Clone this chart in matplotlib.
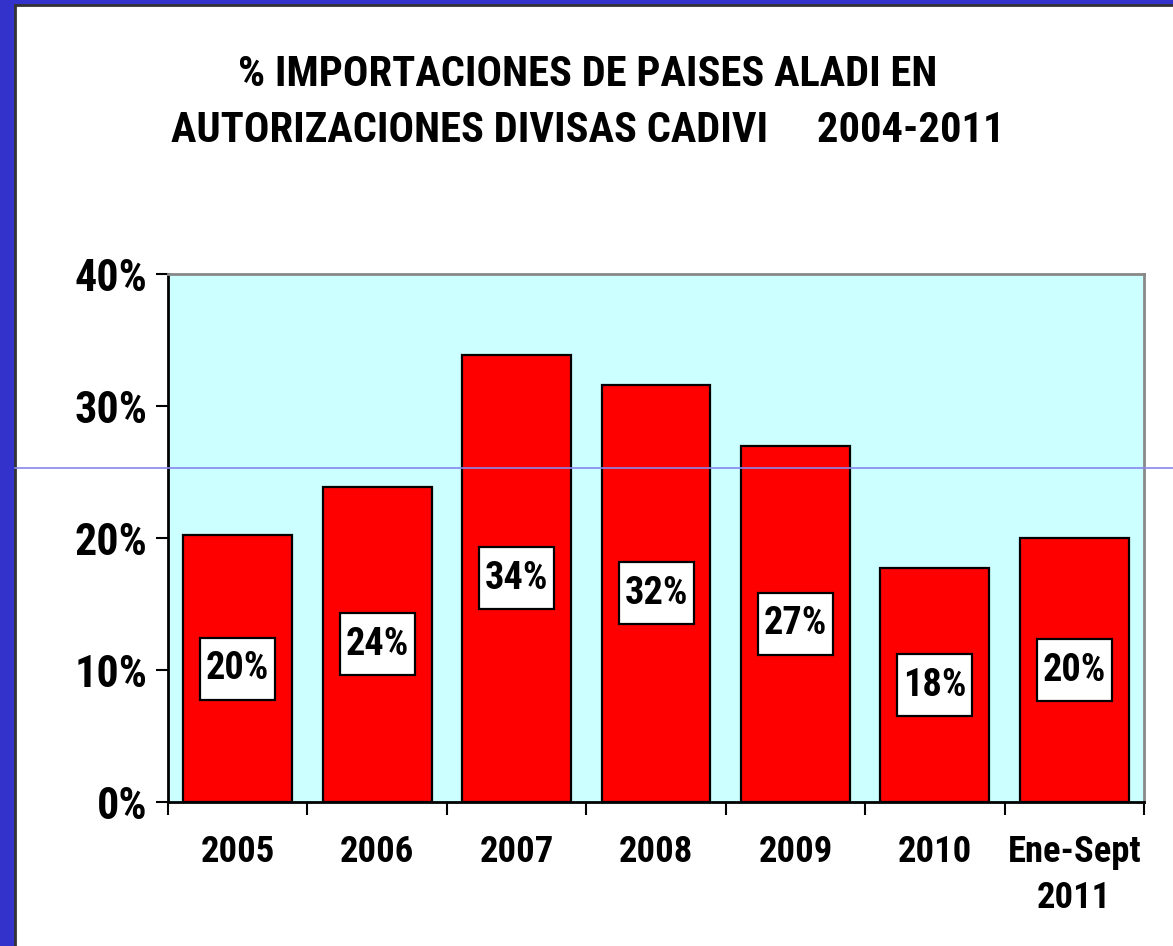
import matplotlib
matplotlib.use("Agg")
import matplotlib.pyplot as plt
from matplotlib import font_manager
from matplotlib.patches import Rectangle
from matplotlib.lines import Line2D

categories = ["2005", "2006", "2007", "2008", "2009", "2010", "Ene-Sept\n2011"]
values = [20.2, 23.9, 33.9, 31.6, 27.0, 17.7, 20.0]
value_labels = ["20%", "24%", "34%", "32%", "27%", "18%", "20%"]
yticks = [0, 10, 20, 30, 40]
ytick_labels = ["0%", "10%", "20%", "30%", "40%"]
title_lines = ["% IMPORTACIONES DE PAISES ALADI EN",
               "AUTORIZACIONES DIVISAS CADIVI     2004-2011"]

avail = {f.name for f in font_manager.fontManager.ttflist}
narrow = None
for cand in ["Liberation Sans Narrow", "Arial Narrow", "Roboto Condensed", "Open Sans Condensed"]:
    if cand in avail:
        narrow = cand
        break
fam = narrow if narrow else "Liberation Sans"
k = 1.2 if narrow else 1.0
plt.rcParams['font.family'] = [fam, 'DejaVu Sans']

W, H = 1173, 946
fig = plt.figure(figsize=(W / 100, H / 100), dpi=100)
fig.patch.set_facecolor("white")

# frame decorations
fig.add_artist(Rectangle((0, 0), 14 / W, 1, transform=fig.transFigure, color="#3333CC", zorder=0))
fig.add_artist(Rectangle((0, 1 - 4 / H), 1, 4 / H, transform=fig.transFigure, color="#3333CC", zorder=0))
fig.add_artist(Line2D([15 / W, 15 / W], [0, 1 - 5 / H], transform=fig.transFigure, color="#333333", lw=2))
fig.add_artist(Line2D([15 / W, 1], [1 - 5.5 / H, 1 - 5.5 / H], transform=fig.transFigure, color="#333333", lw=2))

left, right, top, bottom = 168, 1144, 274, 802
ax = fig.add_axes([left / W, 1 - bottom / H, (right - left) / W, (bottom - top) / H])
ax.set_facecolor("#CCFFFF")

x = list(range(len(categories)))
ax.bar(x, values, width=0.78, color="#FF0000", edgecolor="black", linewidth=1.6, zorder=2)

px_x = (right - left) / len(categories)   # pixels per x unit
px_y = (bottom - top) / 40.0             # pixels per y unit
bw, bh = 75 / px_x, 62 / px_y
for xi, v, lab in zip(x, values, value_labels):
    ax.add_patch(Rectangle((xi - bw / 2, v / 2 - bh / 2), bw, bh, fc="white", ec="black",
                           lw=1.6, zorder=3))
    ax.text(xi, v / 2, lab, ha="center", va="center", fontsize=23 * k, fontweight="bold", zorder=4)

ax.set_xlim(-0.5, len(categories) - 0.5)
ax.set_ylim(0, 40)
ax.set_yticks(yticks)
ax.set_yticklabels(ytick_labels, fontsize=26.5 * k, fontweight="bold")
ax.set_xticks([i - 0.5 for i in range(len(categories) + 1)])
ax.set_xticklabels([])
ax.set_xticks(x, minor=True)
ax.set_xticklabels(categories, minor=True, fontsize=22 * k, fontweight="bold", linespacing=1.35)
ax.tick_params(axis="x", which="minor", length=0, pad=23)
ax.tick_params(axis="x", which="major", length=9, width=1.5, direction="out")
ax.tick_params(axis="y", length=9, width=1.5, direction="out", pad=6)

ax.spines["left"].set_linewidth(2)
ax.spines["bottom"].set_linewidth(2)
ax.spines["top"].set_color("#888888")
ax.spines["right"].set_color("#888888")
ax.spines["top"].set_linewidth(2)
ax.spines["right"].set_linewidth(2)

fig.text(588 / W, 1 - 75 / H, title_lines[0], ha="center", va="center", fontsize=25.5 * k,
         fontweight="bold")
fig.text(588 / W, 1 - 131 / H, title_lines[1], ha="center", va="center", fontsize=25.5 * k,
         fontweight="bold")

fig.add_artist(Line2D([15 / W, 1], [1 - 468 / H, 1 - 468 / H], transform=fig.transFigure,
                      color="#8888EE", lw=1.2, zorder=10))

fig.savefig("out.png", dpi=100)
